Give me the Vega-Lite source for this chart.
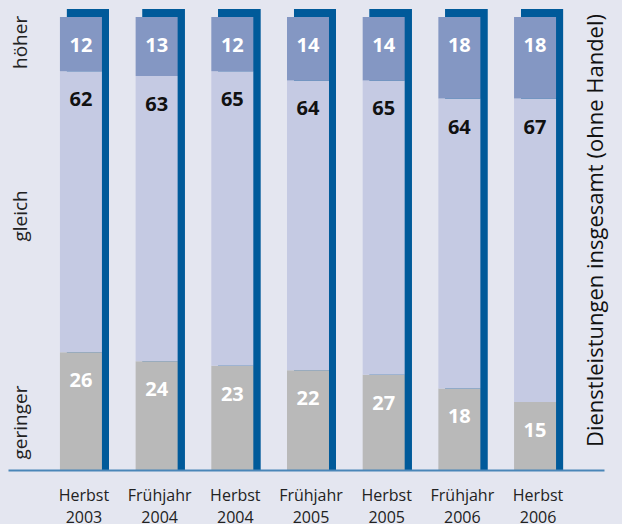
{
  "$schema": "https://vega.github.io/schema/vega-lite/v6.json",
  "width": 596,
  "height": 453,
  "autosize": "none",
  "padding": {"left": 8, "top": 17, "right": 18, "bottom": 54},
  "background": "#e4e6f0",
  "config": {"view": {"stroke": null}, "font": "Open Sans", "axis": {"grid": false}},
  "data": {"values": [
    {"period": "Herbst 2003", "cat": "geringer", "order": 1, "value": 26, "label": "26"},
    {"period": "Herbst 2003", "cat": "gleich", "order": 2, "value": 62, "label": "62"},
    {"period": "Herbst 2003", "cat": "höher", "order": 3, "value": 12, "label": "12"},
    {"period": "Frühjahr 2004", "cat": "geringer", "order": 1, "value": 24, "label": "24"},
    {"period": "Frühjahr 2004", "cat": "gleich", "order": 2, "value": 63, "label": "63"},
    {"period": "Frühjahr 2004", "cat": "höher", "order": 3, "value": 13, "label": "13"},
    {"period": "Herbst 2004", "cat": "geringer", "order": 1, "value": 23, "label": "23"},
    {"period": "Herbst 2004", "cat": "gleich", "order": 2, "value": 65, "label": "65"},
    {"period": "Herbst 2004", "cat": "höher", "order": 3, "value": 12, "label": "12"},
    {"period": "Frühjahr 2005", "cat": "geringer", "order": 1, "value": 22, "label": "22"},
    {"period": "Frühjahr 2005", "cat": "gleich", "order": 2, "value": 64, "label": "64"},
    {"period": "Frühjahr 2005", "cat": "höher", "order": 3, "value": 14, "label": "14"},
    {"period": "Herbst 2005", "cat": "geringer", "order": 1, "value": 21, "label": "27"},
    {"period": "Herbst 2005", "cat": "gleich", "order": 2, "value": 65, "label": "65"},
    {"period": "Herbst 2005", "cat": "höher", "order": 3, "value": 14, "label": "14"},
    {"period": "Frühjahr 2006", "cat": "geringer", "order": 1, "value": 18, "label": "18"},
    {"period": "Frühjahr 2006", "cat": "gleich", "order": 2, "value": 64, "label": "64"},
    {"period": "Frühjahr 2006", "cat": "höher", "order": 3, "value": 18, "label": "18"},
    {"period": "Herbst 2006", "cat": "geringer", "order": 1, "value": 15, "label": "15"},
    {"period": "Herbst 2006", "cat": "gleich", "order": 2, "value": 67, "label": "67"},
    {"period": "Herbst 2006", "cat": "höher", "order": 3, "value": 18, "label": "18"}
  ]},
  "transform": [
    {"stack": "value", "groupby": ["period"], "sort": [{"field": "order", "order": "ascending"}], "as": ["y0", "y1"]}
  ],
  "encoding": {
    "x": {
      "field": "period", "type": "nominal", "sort": null,
      "scale": {"paddingInner": 0.445, "paddingOuter": 0.66, "align": 0.52},
      "axis": {
        "title": null, "ticks": false, "domainColor": "#4a86b8", "domainWidth": 2,
        "labelAngle": 0, "labelFontSize": 16, "labelColor": "#222222",
        "labelExpr": "split(datum.label, ' ')", "labelLineHeight": 22,
        "labelBaseline": "top", "labelPadding": 17, "labelOffset": 3, "zindex": 1
      }
    }
  },
  "layer": [
    {
      "mark": {"type": "bar", "color": "#005a9a", "xOffset": 7, "x2Offset": 7, "yOffset": -8},
      "encoding": {
        "y": {"datum": 100, "type": "quantitative", "scale": {"domain": [0, 100]},
          "axis": {
            "orient": "left", "title": null, "domain": false, "ticks": false, "offset": -20,
            "values": [10.6, 56.2, 94.5],
            "labelExpr": "datum.value > 80 ? 'höher' : datum.value > 30 ? 'gleich' : 'geringer'",
            "labelAngle": -90, "labelAlign": "center", "labelBaseline": "alphabetic",
            "labelPadding": 2, "labelFontSize": 19, "labelColor": "#222222"
          }},
        "y2": {"datum": 0}
      }
    },
    {
      "mark": {"type": "bar"},
      "encoding": {
        "y": {"field": "y1", "type": "quantitative", "scale": {"domain": [0, 100]}, "axis": null},
        "y2": {"field": "y0"},
        "color": {"field": "cat", "type": "nominal", "legend": null,
          "scale": {"domain": ["höher", "gleich", "geringer"], "range": ["#8497c3", "#c5cae3", "#b9b9b9"]}}
      }
    },
    {
      "mark": {"type": "text", "fontSize": 20, "fontWeight": "bold", "baseline": "middle", "dy": 29},
      "encoding": {
        "y": {"field": "y1", "type": "quantitative", "scale": {"domain": [0, 100]},
          "axis": {
            "orient": "right", "labels": false, "ticks": false, "domain": false,
            "title": "Dienstleistungen insgesamt (ohne Handel)",
            "titleAngle": -90, "titleX": -2, "titleY": 213, "titleAlign": "center",
            "titleBaseline": "alphabetic", "titleFontSize": 22, "titleFontWeight": "normal",
            "titleColor": "#111111"
          }},
        "text": {"field": "label"},
        "color": {"condition": {"test": "datum.cat == 'gleich'", "value": "#111111"}, "value": "#ffffff"}
      }
    }
  ],
  "resolve": {"axis": {"y": "independent"}}
}
